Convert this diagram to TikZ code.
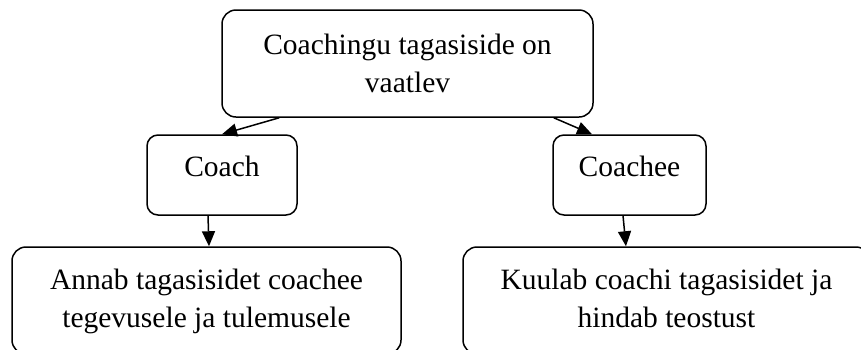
\documentclass[tikz,border=0pt]{standalone}
\usepackage{fontspec}
\setmainfont{Liberation Serif}
\usetikzlibrary{arrows.meta,calc}
\tikzset{
  box/.style={draw, line width=1.5pt, rounded corners=14pt, inner sep=0pt, align=center, font=\fontsize{29.5}{38}\selectfont},
  sbox/.style={box, rounded corners=11pt, text height=21pt, text depth=19pt},
  bbox/.style={box, minimum height=107pt, text height=73pt, text depth=20pt},
  arr/.style={line width=1.5pt, -{Triangle[length=15pt,width=13pt]}}
}
\begin{document}
\begin{tikzpicture}[x=1pt,y=-1pt]
\useasboundingbox (0,0) rectangle (861,349);
\clip (0,0) rectangle (861,349);
\node[box, minimum width=371pt, minimum height=107pt] (top) at (407.5,63.5) {Coachingu tagasiside on\\vaatlev};
\node[sbox, minimum width=150pt, minimum height=80pt] (coach) at (222,175) {Coach};
\node[sbox, minimum width=153pt, minimum height=80pt] (coachee) at (629.5,175) {Coachee};
\node[bbox, minimum width=389pt] (bl) at (206.5,300.5) {Annab tagasisidet coachee\\tegevusele ja tulemusele};
\node[bbox, minimum width=407pt] (br) at (666.5,300.5) {Kuulab coachi tagasisidet ja\\hindab teostust};
\draw[arr] ($(top.south west)+(58,0)$) -- (coach.north);
\draw[arr] ($(top.south east)+(-40,0)$) -- ($(coachee.north)+(-37.5,0)$);
\draw[arr] ($(coach.south)+(-14,0)$) -- ($(bl.north)+(2.5,0)$);
\draw[arr] ($(coachee.south)+(-6.5,0)$) -- ($(br.north)+(-40.5,0)$);
\end{tikzpicture}
\end{document}
